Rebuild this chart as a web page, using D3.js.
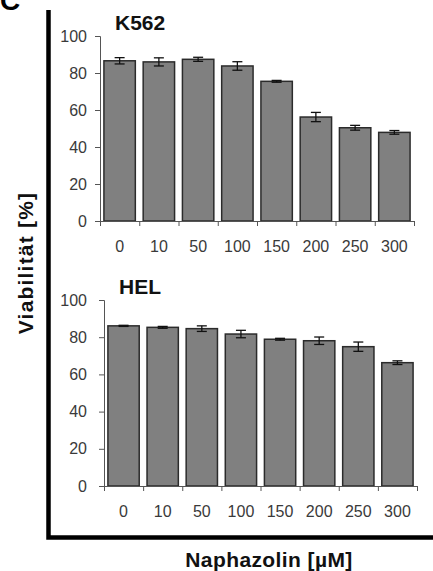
<!DOCTYPE html>
<html>
<head>
<meta charset="utf-8">
<script src="https://cdn.jsdelivr.net/npm/d3@7"></script>
<style>
  body { margin: 0; background: #fff; }
  svg { display: block; font-family: Arial, "Liberation Sans", sans-serif; }
</style>
</head>
<body>
<script>
// concentrations of naphazolin (µM)
var doses = ["0", "10", "50", "100", "150", "200", "250", "300"];
var yTicks = [0, 20, 40, 60, 80, 100];

// viability (%) and error for each cell line
var k562Values = [86.6, 86, 87.4, 83.8, 75.5, 56.2, 50.4, 47.9];
var k562Errors = [1.7, 2.2, 1.1, 2.3, 0.5, 2.5, 1.3, 1];
var helValues = [86.1, 85.3, 84.6, 81.7, 78.9, 78.1, 74.9, 66.3];
var helErrors = [0.3, 0.5, 1.5, 2, 0.5, 2, 2.5, 1];

var width = 433, height = 571;

var svg = d3.select("body").append("svg")
    .attr("width", width)
    .attr("height", height);

/**
 * draws one bar panel
 * @param {string} title cell line name
 * @param {Array} values bar heights
 * @param {Array} errors error bar half widths
 * @param {object} box pixel box of the plot area
 */
var drawPanel = function (title, values, errors, box) {
    var data = doses.map(function (d, i) {
        return { dose: d, value: values[i], err: errors[i] };
    });

    var x = d3.scaleBand()
        .domain(doses)
        .range([box.left, box.right])
        .paddingInner(0.2)
        .paddingOuter(0.1);

    var y = d3.scaleLinear()
        .domain([0, 100])
        .range([box.bottom, box.top]);

    var g = svg.append("g");

    // bars
    g.selectAll("rect.bar")
        .data(data)
        .enter()
        .append("rect")
        .attr("class", "bar")
        .attr("x", function (d) { return x(d.dose); })
        .attr("width", x.bandwidth())
        .attr("y", function (d) { return y(d.value); })
        .attr("height", function (d) { return y(0) - y(d.value); })
        .style("fill", "#808080")
        .style("stroke", "#2b2b2b")
        .style("stroke-width", 1.5);

    // error bars
    var eb = g.selectAll("g.err")
        .data(data)
        .enter()
        .append("g")
        .attr("class", "err")
        .style("stroke", "#111")
        .style("stroke-width", 1.3);
    var cx = function (d) { return x(d.dose) + x.bandwidth() / 2; };
    eb.append("line")
        .attr("x1", cx).attr("x2", cx)
        .attr("y1", function (d) { return y(d.value + d.err); })
        .attr("y2", function (d) { return y(d.value - d.err); });
    eb.append("line")
        .attr("x1", function (d) { return cx(d) - 5; })
        .attr("x2", function (d) { return cx(d) + 5; })
        .attr("y1", function (d) { return y(d.value + d.err); })
        .attr("y2", function (d) { return y(d.value + d.err); });
    eb.append("line")
        .attr("x1", function (d) { return cx(d) - 5; })
        .attr("x2", function (d) { return cx(d) + 5; })
        .attr("y1", function (d) { return y(d.value - d.err); })
        .attr("y2", function (d) { return y(d.value - d.err); });

    // y axis
    var yAxis = g.append("g")
        .attr("transform", "translate(" + box.left + ",0)")
        .call(d3.axisLeft(y).tickValues(yTicks).tickSize(5).tickPadding(box.ypad));
    yAxis.select(".domain").attr("stroke", "#555");
    yAxis.selectAll(".tick line").attr("stroke", "#555");
    yAxis.selectAll("text")
        .style("font-size", "16px")
        .style("fill", "#3a3a3a");

    // x axis ticks between the bars
    var edges = d3.scaleLinear().domain([0, doses.length]).range([box.left, box.right]);
    var xTickAxis = g.append("g")
        .attr("transform", "translate(0," + box.bottom + ")")
        .call(d3.axisBottom(edges).ticks(doses.length).tickSize(5).tickSizeOuter(0).tickFormat(""));
    xTickAxis.select(".domain").attr("stroke", "#555");
    xTickAxis.selectAll(".tick line").attr("stroke", "#555");

    // dose labels
    var xLabels = g.append("g")
        .attr("transform", "translate(0," + box.bottom + ")")
        .call(d3.axisBottom(x).tickSize(0).tickPadding(20));
    xLabels.select(".domain").remove();
    xLabels.selectAll("text")
        .style("font-size", "16px")
        .style("fill", "#3a3a3a");

    g.append("text")
        .attr("x", box.left + 15)
        .attr("y", box.top - 6)
        .style("font-size", "21px")
        .style("font-weight", "bold")
        .style("fill", "#111")
        .text(title);
};

drawPanel("K562", k562Values, k562Errors, { left: 100, right: 414, top: 36, bottom: 221, ypad: 8 });
drawPanel("HEL", helValues, helErrors, { left: 104, right: 417, top: 300, bottom: 486, ypad: 12 });

// outer frame (left and bottom)
svg.append("path")
    .attr("d", "M48.5,10V537.5H433")
    .style("fill", "none")
    .style("stroke", "#000")
    .style("stroke-width", 4.5);

svg.append("text")
    .attr("x", 0)
    .attr("y", 10)
    .style("font-size", "28px")
    .style("font-weight", "bold")
    .text("C");

svg.append("text")
    .attr("transform", "translate(33,263) rotate(-90)")
    .attr("text-anchor", "middle")
    .style("font-size", "21px")
    .style("font-weight", "bold")
    .style("letter-spacing", "1.2px")
    .style("fill", "#111")
    .text("Viabilität [%]");

svg.append("text")
    .attr("x", 269)
    .attr("y", 567)
    .attr("text-anchor", "middle")
    .style("font-size", "21px")
    .style("font-weight", "bold")
    .style("letter-spacing", "0.4px")
    .style("fill", "#111")
    .text("Naphazolin [µM]");
</script>
</body>
</html>
